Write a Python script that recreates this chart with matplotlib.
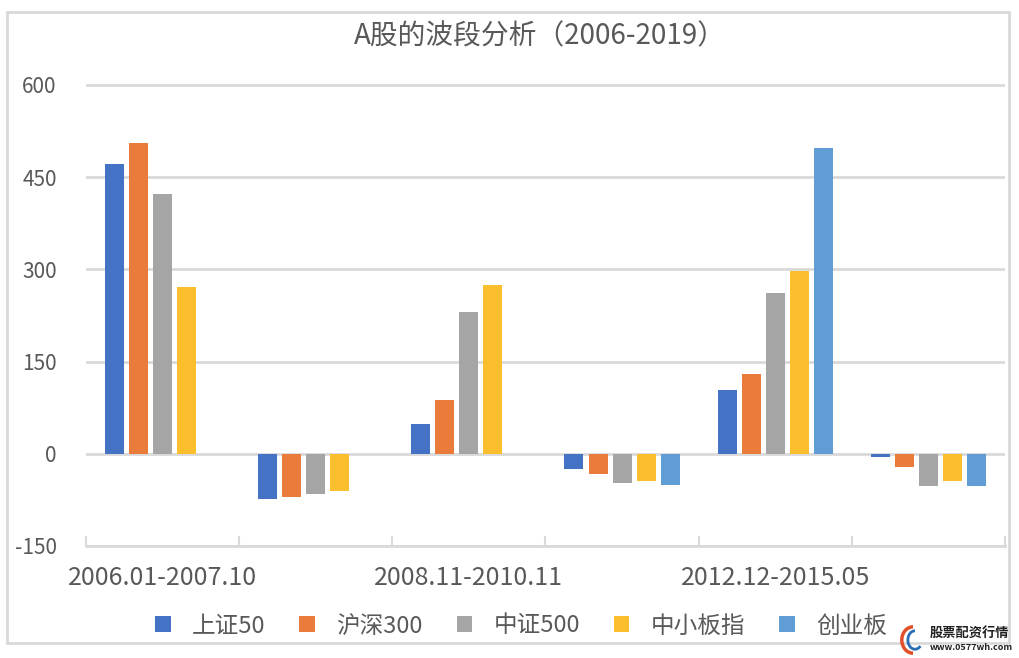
# -*- coding: utf-8 -*-
"""
A股的波段分析 (2006-2019) - grouped bar chart
"""

import numpy as np
import matplotlib
matplotlib.use("Agg")
import matplotlib.pyplot as plt
from matplotlib.patches import Rectangle, Arc

plt.rcParams['font.family'] = ['Noto Sans CJK SC', 'DejaVu Sans']

#### data ####
periods = ['2006.01-2007.10', '2007.10-2008.11', '2008.11-2010.11',
           '2010.11-2012.12', '2012.12-2015.05', '2015.06-2019']
shown_labels = ['2006.01-2007.10', '', '2008.11-2010.11', '', '2012.12-2015.05', '']
series_names = ['上证50', '沪深300', '中证500', '中小板指', '创业板']

sz50 = [471, -73, 49, -24, 103, -6]
hs300 = [505, -71, 88, -33, 129, -21]
zz500 = [422, -66, 231, -47, 262, -52]
zxb = [271, -61, 274, -45, 297, -44]
cyb = [np.nan, np.nan, np.nan, -50, 497, -53]

colors = ['#4472c4', '#e97c3a', '#a5a5a5', '#fbbf2d', '#5f9dd4']
yticks = [-150, 0, 150, 300, 450, 600]
########################################

grid_c = '#d9d9d9'
text_c = '#595959'

fig = plt.figure(figsize=(10.2, 6.58), dpi=100)
ax = fig.add_axes([86 / 1020, 1 - 546 / 658, 919 / 1020, (546 - 83) / 658])

x = np.arange(len(periods))
step = 0.157
width = 0.124
all_series = [sz50, hs300, zz500, zxb, cyb]
for i, (vals, name, c) in enumerate(zip(all_series, series_names, colors)):
    ax.bar(x + (i - 2) * step, vals, width, color=c, label=name, zorder=3)

ax.set_xlim(-0.5, len(periods) - 0.5)
ax.set_ylim(-150, 603)
ax.set_yticks(yticks)
ax.set_yticklabels([str(v) for v in yticks], fontsize=15, color=text_c)
ax.tick_params(axis='y', length=0, pad=21)

ax.set_xticks(x)
ax.set_xticklabels(shown_labels, fontsize=18, color=text_c)
ax.tick_params(axis='x', which='major', length=0, pad=14)
ax.set_xticks(np.arange(-0.5, len(periods)), minor=True)
ax.tick_params(axis='x', which='minor', direction='in', length=7, width=1.5, color=grid_c)

ax.grid(axis='y', color=grid_c, linewidth=2, zorder=0)
for s in ['top', 'left', 'right']:
    ax.spines[s].set_visible(False)
ax.spines['bottom'].set_color(grid_c)
ax.spines['bottom'].set_linewidth(2)

fig.text(540 / 1020, 1 - 36 / 658, 'A股的波段分析（2006-2019）', fontsize=20,
         color=text_c, ha='center', va='center')

fig.legend(loc='center', bbox_to_anchor=(521 / 1020, 1 - 626 / 658), ncol=5,
           frameon=False, fontsize=17, handlelength=0.65, handleheight=0.65,
           handletextpad=0.9, columnspacing=1.45, labelcolor=text_c)

# outer chart frame
fig.patches.append(Rectangle((7 / 1020, 1 - 643 / 658), 1002 / 1020, 631 / 658,
                             transform=fig.transFigure, fill=False,
                             edgecolor=grid_c, linewidth=2))

# watermark
fig.patches.append(Arc((913 / 1020, 1 - 640 / 658), 0.022, 0.04, theta1=90, theta2=270,
                       transform=fig.transFigure, color='#e0502a', linewidth=2.5))
fig.patches.append(Arc((915 / 1020, 1 - 640 / 658), 0.014, 0.028, theta1=90, theta2=300,
                       transform=fig.transFigure, color='#2a6fb5', linewidth=2))
fig.text(930 / 1020, 1 - 633 / 658, '股票配资行情', fontsize=9.5, fontweight='bold',
         color='#222222', ha='left', va='center')
fig.text(930 / 1020, 1 - 647 / 658, 'www.0577wh.com', fontsize=6.5, fontweight='bold',
         color='#222222', ha='left', va='center')

fig.savefig('out.png', dpi=100, facecolor='white')
